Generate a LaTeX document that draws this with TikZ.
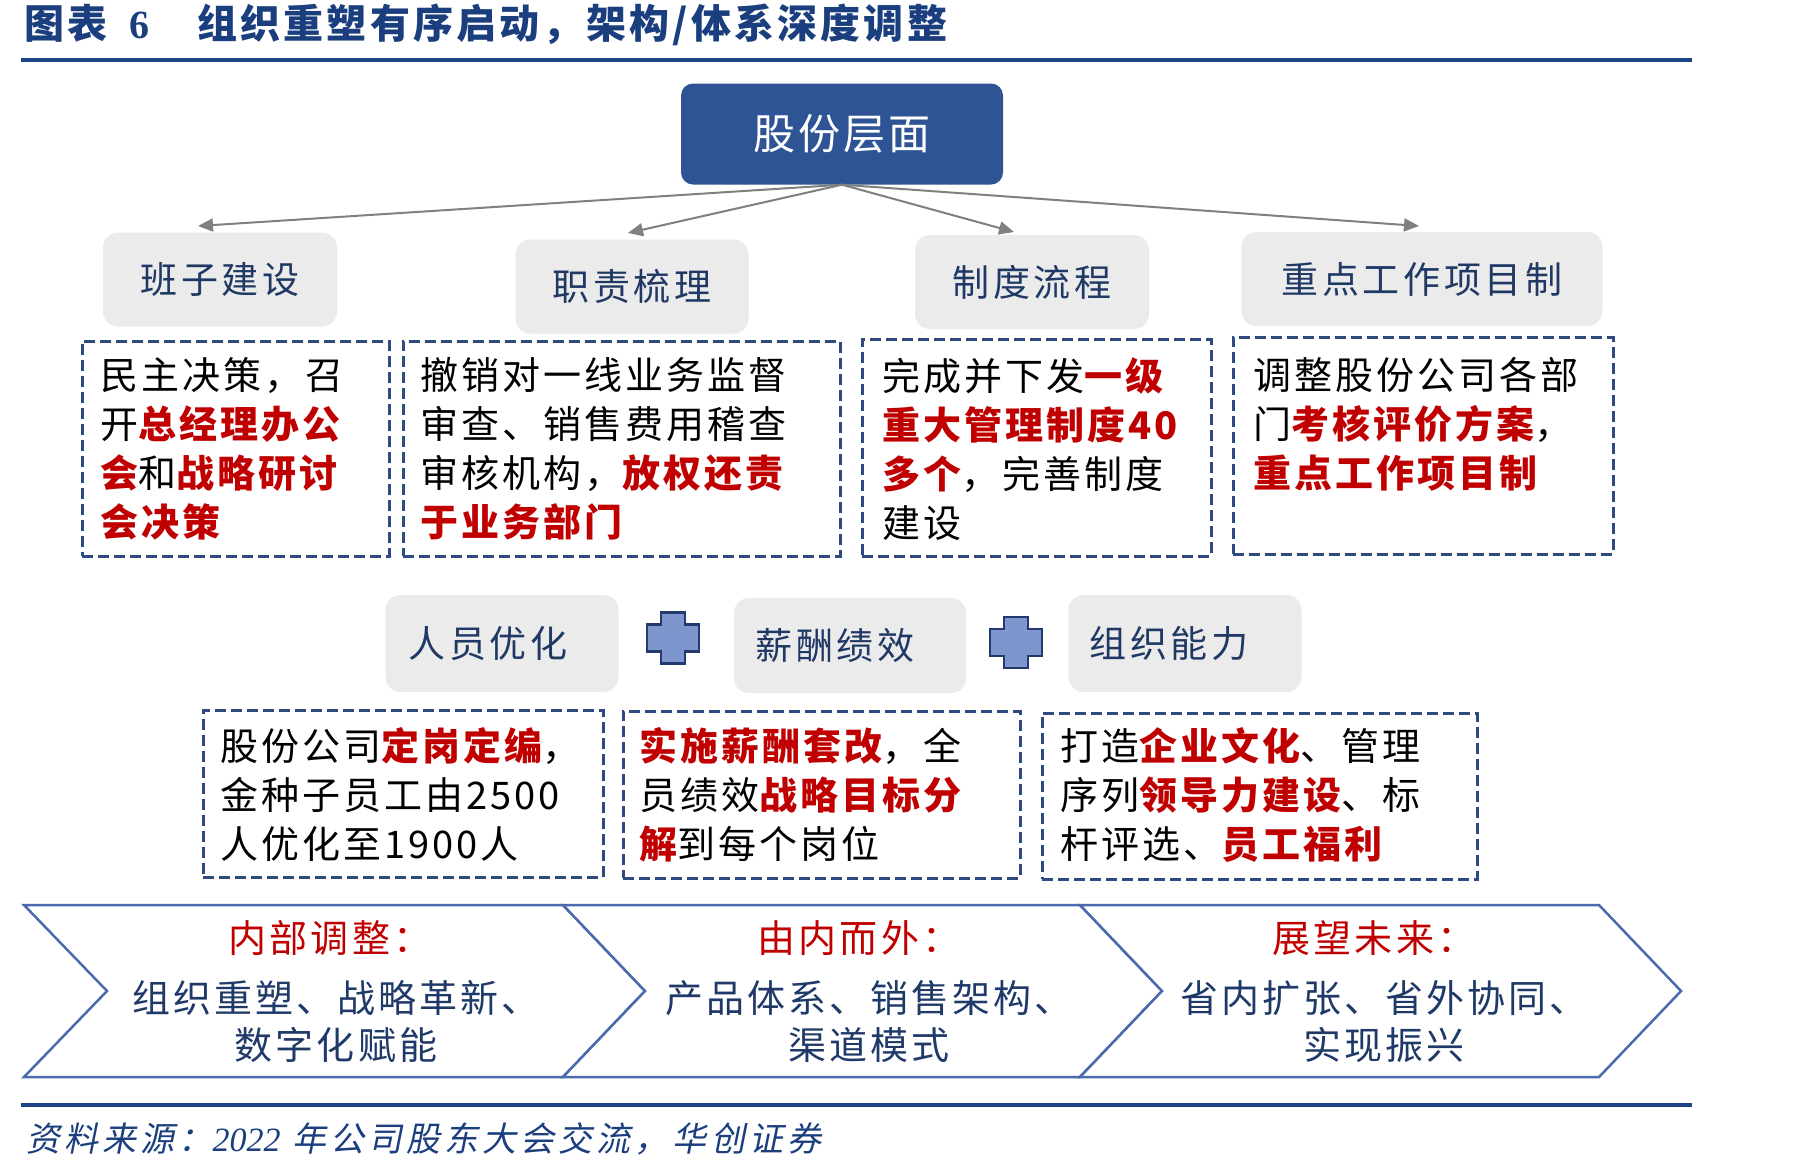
\documentclass[tikz,border=0pt]{standalone}
\usepackage{fontspec}
\usetikzlibrary{arrows.meta}
\setmainfont{Noto Sans CJK SC}
\newfontfamily\boxfont{Noto Sans CJK SC}[LetterSpace=8]
\newfontfamily\grayfont{Noto Sans CJK SC}[LetterSpace=10]
\newfontfamily\topfont{Noto Sans CJK SC}[LetterSpace=7]
\newfontfamily\chevfont{Noto Sans CJK SC}[LetterSpace=8]
\newfontfamily\titlefont{Noto Sans CJK SC}[LetterSpace=8]
\newfontfamily\srcfont{Noto Sans CJK SC}[FakeSlant=0.2,LetterSpace=12]
\newfontfamily\numserif{Liberation Serif}
\definecolor{topblue}{RGB}{46,84,150}
\definecolor{boxgray}{RGB}{235,235,235}
\definecolor{graytext}{RGB}{31,56,100}
\definecolor{myred}{RGB}{192,0,0}
\definecolor{dashblue}{RGB}{47,74,128}
\definecolor{arrgray}{RGB}{128,128,128}
\definecolor{plusfill}{RGB}{125,150,205}
\definecolor{plusline}{RGB}{36,58,110}
\definecolor{chevline}{RGB}{76,106,174}
\definecolor{chevtext}{RGB}{31,58,104}
\definecolor{rulecol}{RGB}{27,69,134}
\definecolor{titlecol}{RGB}{27,63,126}
\newcommand{\rd}[1]{{\color{myred}\bfseries #1}}
\newcommand{\drawplus}[2]{%
  \draw[plusst] ({#1-12},{#2-25.5}) -- ({#1+12},{#2-25.5}) -- ({#1+12},{#2-13.5}) -- ({#1+26},{#2-13.5})
   -- ({#1+26},{#2+13.5}) -- ({#1+12},{#2+13.5}) -- ({#1+12},{#2+25.5}) -- ({#1-12},{#2+25.5})
   -- ({#1-12},{#2+13.5}) -- ({#1-26},{#2+13.5}) -- ({#1-26},{#2-13.5}) -- ({#1-12},{#2-13.5}) -- cycle;}
\begin{document}
\begin{tikzpicture}[x=1pt,y=-1pt,
  topbox/.style={fill=topblue, rounded corners=12pt, minimum width=322pt, minimum height=101pt, inner sep=0pt, text=white, font=\topfont\fontsize{42}{50}\selectfont},
  graybox/.style={fill=boxgray, rounded corners=15pt, minimum height=94pt, inner sep=0pt, text=graytext, font=\grayfont\fontsize{37}{44}\selectfont},
  dbox/.style={draw=dashblue, line width=2.6pt, dash pattern=on 11pt off 5pt, anchor=north west, inner sep=0pt},
  btext/.style={anchor=north west, align=left, inner sep=0pt, font=\boxfont\fontsize{38}{49}\selectfont},
  arr/.style={draw=arrgray, line width=2pt, -{Triangle[length=15pt,width=13pt]}},
  plusst/.style={fill=plusfill, draw=plusline, line width=2.5pt, line join=miter},
  chev/.style={fill=white, draw=chevline, line width=2.5pt, line join=miter},
  chevtitle/.style={inner sep=0pt, text=myred, font=\chevfont\fontsize{38}{47}\selectfont},
  chevbody/.style={inner sep=0pt, align=center, text=chevtext, font=\chevfont\fontsize{38}{47}\selectfont},
  rule/.style={draw=rulecol, line width=4pt}
]
\fill[white] (0,0) rectangle (1801,1173);
\useasboundingbox (0,0) rectangle (1801,1173);

% title
\node[anchor=west, inner sep=0pt, text=titlecol, font=\titlefont\bfseries\fontsize{40}{48}\selectfont] (title) at (24,25)
  {图表\hspace{22pt}{\numserif\bfseries 6}\hspace{48pt}组织重塑有序启动，架构/体系深度调整};
\draw[rule] (21,60) -- (1692,60);

% top node
\node[topbox] (top) at (842,134) {股份层面};

% level 2 boxes
\node[graybox, minimum width=234pt] (g1) at (220,279.5) {班子建设};
\node[graybox, minimum width=233pt] (g2) at (632,286.5) {职责梳理};
\node[graybox, minimum width=234pt] (g3) at (1032,282) {制度流程};
\node[graybox, minimum width=361pt] (g4) at (1422,279) {重点工作项目制};

% arrows
\coordinate (a1) at (198,226);
\coordinate (a2) at (628,233);
\coordinate (a3) at (1014,232);
\coordinate (a4) at (1419,226);
\draw[arr] (top.south) -- (a1);
\draw[arr] (top.south) -- (a2);
\draw[arr] (top.south) -- (a3);
\draw[arr] (top.south) -- (a4);

% dashed boxes row 1
\node[dbox, minimum width=307pt, minimum height=215pt] (d1) at (81,340) {};
\node[dbox, minimum width=437pt, minimum height=215pt] (d2) at (402,340) {};
\node[dbox, minimum width=349pt, minimum height=217pt] (d3) at (861,338) {};
\node[dbox, minimum width=380pt, minimum height=217pt] (d4) at (1232,336) {};

\node[btext] (t1) at (100,357) {民主决策，召\\开\rd{总经理办公}\\\rd{会}和\rd{战略研讨}\\\rd{会决策}};
\node[btext] (t2) at (420,357) {撤销对一线业务监督\\审查、销售费用稽查\\审核机构，\rd{放权还责}\\\rd{于业务部门}};
\node[btext] (t3) at (882,357) {完成并下发\rd{一级}\\\rd{重大管理制度40}\\\rd{多个}，完善制度\\建设};
\node[btext] (t4) at (1253,357) {调整股份公司各部\\门\rd{考核评价方案}，\\\rd{重点工作项目制}};

% row 2 boxes
\node[graybox, minimum width=233pt, minimum height=97pt] (r1) at (502,643.5) {人员优化\hspace*{28pt}};
\node[graybox, minimum width=232pt, minimum height=95pt] (r2) at (850,645.5) {薪酬绩效\hspace*{30pt}};
\node[graybox, minimum width=233pt, minimum height=97pt] (r3) at (1185,643.5) {组织能力\hspace*{32pt}};
\drawplus{673}{638}
\drawplus{1016}{642.5}

% dashed boxes row 2
\node[dbox, minimum width=400pt, minimum height=167pt] (d5) at (202,709) {};
\node[dbox, minimum width=397pt, minimum height=167pt] (d6) at (622,710) {};
\node[dbox, minimum width=435pt, minimum height=166pt] (d7) at (1041,712) {};

\node[btext] (t5) at (220,727) {股份公司\rd{定岗定编}，\\金种子员工由2500\\人优化至1900人};
\node[btext] (t6) at (639,727) {\rd{实施薪酬套改}，全\\员绩效\rd{战略目标分}\\\rd{解}到每个岗位};
\node[btext] (t7) at (1060,727) {打造\rd{企业文化}、管理\\序列\rd{领导力建设}、标\\杆评选、\rd{员工福利}};

% chevrons
\draw[chev] (24,905) -- (563,905) -- (645,991) -- (563,1077) -- (24,1077) -- (107,991) -- cycle;
\draw[chev] (563,905) -- (1080,905) -- (1162,991) -- (1080,1077) -- (563,1077) -- (645,991) -- cycle;
\draw[chev] (1080,905) -- (1599,905) -- (1681,991) -- (1599,1077) -- (1080,1077) -- (1162,991) -- cycle;

\node[chevtitle] (c1t) at (330,938) {内部调整：};
\node[chevbody] (c1b) at (336,1022) {组织重塑、战略革新、\\数字化赋能};
\node[chevtitle] (c2t) at (859,938) {由内而外：};
\node[chevbody] (c2b) at (869,1022) {产品体系、销售架构、\\渠道模式};
\node[chevtitle] (c3t) at (1374,938) {展望未来：};
\node[chevbody] (c3b) at (1384,1022) {省内扩张、省外协同、\\实现振兴};

% bottom
\draw[rule] (21,1105) -- (1692,1105);
\node[anchor=west, inner sep=0pt, text=titlecol, font=\srcfont\fontsize{34}{40}\selectfont] (src) at (26,1139)
  {资料来源：{\numserif\itshape 2022} 年公司股东大会交流，华创证券};
\end{tikzpicture}
\end{document}
